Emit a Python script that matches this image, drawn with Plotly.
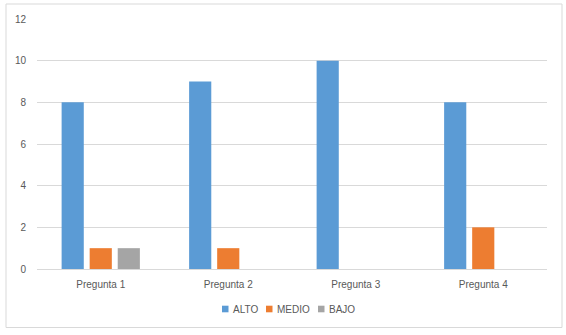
import plotly.graph_objects as go

categories = ["Pregunta 1", "Pregunta 2", "Pregunta 3", "Pregunta 4"]
alto = [8, 9, 10, 8]
medio = [1, 1, 0, 2]
bajo = [1, 0, 0, 0]
series_names = ["ALTO", "MEDIO", "BAJO"]
series_colors = ["#5B9BD5", "#ED7D31", "#A5A5A5"]
y_ticks = [0, 2, 4, 6, 8, 10, 12]

fig = go.Figure()
for name, vals, col in zip(series_names, [alto, medio, bajo], series_colors):
    fig.add_bar(x=categories, y=vals, name=name, showlegend=False,
                marker=dict(color=col, line=dict(width=0)))

font = dict(family="Liberation Sans, Arial, sans-serif", size=10, color="#595959")

# plot area in pixels
L, R, T, B = 37, 547, 19, 269
def px(x):
    return (x - L) / (R - L)
def py(y):
    return (B - y) / (B - T)

shapes = [dict(type="rect", xref="paper", yref="paper",
               x0=px(6), x1=px(562), y0=py(327.5), y1=py(4),
               line=dict(color="#D9D9D9", width=1), fillcolor="rgba(0,0,0,0)", layer="below")]
annotations = []
# manual compact legend (Excel style)
legend_marker_x = [222, 266, 318]
legend_y = 309
for name, col, mx in zip(series_names, series_colors, legend_marker_x):
    shapes.append(dict(type="rect", xref="paper", yref="paper",
                       x0=px(mx), x1=px(mx + 6.5), y0=py(legend_y + 3.3), y1=py(legend_y - 3.3),
                       line=dict(width=0), fillcolor=col))
    annotations.append(dict(xref="paper", yref="paper", x=px(mx + 8.5), y=py(legend_y),
                            xanchor="left", yanchor="middle", text=name, showarrow=False,
                            font=font))

fig.update_layout(
    width=566, height=335,
    margin=dict(l=L, r=566 - R, t=T, b=335 - B),
    paper_bgcolor="white", plot_bgcolor="white",
    barmode="group", bargap=0.34, bargroupgap=0.21,
    font=font,
    showlegend=False,
    xaxis=dict(showgrid=False, showline=False, ticks="", tickfont=font, ticklabelstandoff=8),
    yaxis=dict(range=[0, 12], tickvals=y_ticks, showgrid=True, gridcolor="#D9D9D9", gridwidth=1,
               zeroline=True, zerolinecolor="#D9D9D9", zerolinewidth=1,
               showline=False, ticks="", tickfont=font, ticklabelstandoff=10),
    shapes=shapes,
    annotations=annotations,
)

fig.write_html("out.html")
